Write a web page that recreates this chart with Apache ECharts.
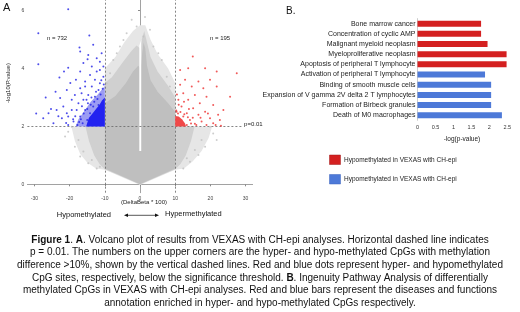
<!DOCTYPE html>
<html>
<head>
<meta charset="utf-8">
<script src="https://cdn.jsdelivr.net/npm/echarts@6/dist/echarts.min.js"></script>
<style>
html, body { margin: 0; padding: 0; background: #fff; }
#chart { width: 520px; height: 312px; }
</style>
</head>
<body>
<div id="chart"></div>
<script>
// ---- panel A : volcano plot (DeltaBeta*100 vs -log10 p) ----
const volcanoXTicks = [-30, -20, -10, 0, 10, 20, 30]
const volcanoYTicks = [0, 2, 4, 6]
const hypoCount = 'n = 732'
const hyperCount = 'n = 195'

// dense grey cloud, drawn as outlines
const greyHalo = [[-19.5,2.0],[-18.5,1.5],[-17,1.05],[-15,0.75],[-12.5,0.55],[-10,0.5],[0,-0.02],[10,0.5],[12.5,0.55],[15,0.8],[17.5,1.15],[19.5,1.6],[20.5,2.0],[10,2.0],[10,3.5],[8,4.0],[5,4.5],[3,5.0],[1.5,5.5],[0,5.5],[-2,5.3],[-4.5,4.9],[-7,4.4],[-10,4.0],[-10,2.0]]
const greyMid = [[-15.5,2.0],[-14.5,1.5],[-13,1.0],[-11.5,0.7],[-10,0.52],[0,0],[10,0.52],[11.5,0.7],[13,1.0],[14.5,1.5],[15.5,2.0],[10,2.0],[10,3.0],[8,3.4],[5,3.9],[3,4.4],[2,4.9],[1.2,5.3],[0.5,5.0],[0,4.7],[-1,4.8],[-2.5,4.6],[-5,4.2],[-8,3.7],[-10,3.5],[-10,2.0]]
const greyCore = [[-10,0.55],[0,0],[10,0.55],[10,2.5],[8,2.8],[5,3.2],[3,3.6],[2,4.1],[1.5,4.7],[1.0,4.9],[0.6,4.5],[0.2,4.0],[-0.5,4.1],[-2,3.9],[-4,3.5],[-7,3.05],[-10,2.8]]
const centreGap = [[-0.2,1.15],[0.35,1.15],[0.35,5.0],[-0.2,4.8]]
const blueHalo = [[-10,2.0],[-10,3.4],[-11,3.25],[-12,3.1],[-14,2.85],[-16,2.5],[-17.5,2.25],[-18.3,2.0]]
const blueCore = [[-10,2.0],[-10,3.0],[-10.8,2.9],[-11.5,2.75],[-12.5,2.6],[-13.5,2.45],[-14.5,2.3],[-15.0,2.12],[-15.3,2.0]]
const redCore = [[10,2.0],[10,2.36],[11,2.34],[12,2.24],[12.8,2.1],[13.1,2.0]]

const greyPts = [[1.42,5.78],[-2.37,5.69],[0.95,5.11],[-3.8,5.22],[-5.7,4.76],[3.8,4.76],[-7.6,4.3],[6.2,4.3],[-8.5,3.84],[7.6,3.72],[-0.95,5.45],[-4.7,4.99],[2.84,5.34],[-6.6,4.53],[5.2,4.53],[-9.5,3.49],[8.5,3.38],
  [-19.4,1.99],[-21.3,1.65],[-18.5,1.3],[-17.0,0.96],[-14.7,0.73],[-12.3,0.55],[-20.4,1.82],[-17.5,1.53],[-16.1,1.13],[-13.7,0.84],[-11.4,0.61],
  [19.9,1.99],[21.8,1.53],[18.5,1.3],[16.6,1.01],[14.2,0.78],[12.3,0.55],[20.8,1.76],[17.5,1.53],[15.6,1.19],[13.3,0.9]]

const bluePts = [[-20.4,6.05],[-28.9,5.22],[-14.4,5.14],[-17.2,4.73],[-17.0,4.59],[-28.9,4.15],[-13.3,4.82],[-14.7,4.47],[-20.4,4.03],[-22.9,3.69],[-16.1,4.19],[-14.9,4.32],[-12.3,4.36],[-11.4,3.95],[-10.4,4.07],[-18.2,3.61],[-15.6,3.55],[-20.8,3.26],[-23.7,2.57],[-27.5,2.28],[-24.6,2.11],[-21.8,2.69],[-19.4,2.92],[-18.0,2.57],[-16.6,3.15],[-15.2,2.92],[-13.7,3.38],[-12.8,3.61],[-11.4,3.49],[-10.4,3.72],[-14.2,3.78],[-11.8,3.26],[-20.4,2.34],[-18.9,2.17],[-26.0,2.46],[-17.0,2.34],[-15.6,2.57],[-22.7,2.98],[-14.7,3.09],[-12.8,3.03],[-15.6,3.38],[-17.0,3.32],[-18.5,3.09],[-12.3,3.9],[-17.0,3.9],[-13.7,4.07],[-11.4,4.24],[-10.9,4.53],[-16.1,2.92],[-17.5,2.8],[-19.4,2.57],[-20.8,2.46],[-22.2,2.28],[-17.8,2.05],[-16.3,2.11],[-15.0,2.22],[-20.4,2.05],[-13.3,2.69],[-11.8,2.74],[-14.2,2.46],
  [-10.6,3.3],[-11.2,3.1],[-12.1,2.95],[-13.0,2.85],[-14.0,2.75],[-15.0,2.6],[-16.0,2.45],[-16.8,2.25],[-17.3,2.15],[-10.3,3.45],[-11.0,3.6],[-12.5,3.2],[-13.8,3.0],[-14.8,2.8],[-16.5,2.7],[-18.4,2.35],[-19.0,2.25],[-21.0,2.12],[-23.2,2.35],[-25.3,2.6],[-24.0,3.2],[-26.8,3.0],[-29.5,2.45],[-19.8,3.5],[-21.6,3.9]]

const redPts = [[15.0,4.42],[27.5,3.84],[13.7,4.01],[18.5,4.01],[11.4,3.95],[21.8,3.9],[25.6,3.03],[12.8,3.61],[16.6,3.55],[19.9,3.61],[11.4,3.44],[14.7,3.38],[18.0,3.32],[21.8,3.38],[12.3,3.15],[15.6,3.09],[18.9,3.03],[10.9,2.92],[13.7,2.92],[17.0,2.8],[20.8,2.74],[23.7,2.57],[11.8,2.69],[15.1,2.63],[18.5,2.51],[22.2,2.4],[13.3,2.46],[16.6,2.4],[19.9,2.28],[22.7,2.22],[14.2,2.22],[17.5,2.17],[15.6,2.09],[18.9,2.05],[12.3,2.34],[10.4,2.51],[20.8,2.11],[13.3,2.05],
  [10.3,2.55],[10.8,2.45],[11.5,2.5],[12.6,2.42],[13.6,2.32],[14.5,2.1],[15.0,2.3],[11.0,2.75],[12.5,2.85],[10.5,3.1],[13.9,2.6],[16.0,2.05],[17.2,2.3],[19.3,2.45],[21.5,2.05],[23.0,2.02]]

// ---- panel B : IPA diseases & functions ----
const pathways = ['Bone marrow cancer', 'Concentration of cyclic AMP', 'Malignant myeloid neoplasm', 'Myeloproliferative neoplasm', 'Apoptosis of peripheral T lymphocyte', 'Activation of peripheral T lymphocyte', 'Binding of smooth muscle cells', 'Expansion of V gamma 2V delta 2 T lymphocytes', 'Formation of Birbeck granules', 'Death of M0 macrophages']
const pathwayScores = [1.77, 1.77, 1.95, 2.48, 2.48, 1.88, 2.05, 2.05, 2.05, 2.35]
const pathwayHyper = [true, true, true, true, true, false, false, false, false, false]
const legendLabels = ['Hypomethylated in VEXAS with CH-epi', 'Hypomethylated in VEXAS with CH-epi']

const captionLines = [
  '{b|Figure 1}. {b|A}. Volcano plot of results from VEXAS with CH-epi analyses. Horizontal dashed line indicates',
  'p = 0.01. The numbers on the upper corners are the hyper- and hypo-methylated CpGs with methylation',
  'difference >10%, shown by the vertical dashed lines. Red and blue dots represent hyper- and hypomethylated',
  'CpG sites, respectively, below the significance threshold. {b|B}. Ingenuity Pathway Analysis of differentially',
  'methylated CpGs in VEXAS with CH-epi analyses. Red and blue bars represent the diseases and functions',
  'annotation enriched in hyper- and hypo-methylated CpGs respectively.'
]

const RED = '#d42020'
const BLUE = '#4d79d8'
const FONT = 'Liberation Sans, Arial, sans-serif'

function polygon(pts, color, z) {
  return {
    type: 'custom', xAxisIndex: 0, yAxisIndex: 0, silent: true, z: z,
    data: [[0, 0]],
    renderItem: function (params, api) {
      return { type: 'polygon', shape: { points: pts.map(p => api.coord(p)) }, style: { fill: color } }
    }
  }
}

function dots(pts, color, z) {
  return {
    type: 'scatter', xAxisIndex: 0, yAxisIndex: 0, silent: true, z: z,
    symbolSize: 2, data: pts, itemStyle: { color: color }
  }
}

const chart = echarts.init(document.getElementById('chart'))

const graphic = [
  { type: 'text', left: 3, top: 2, style: { text: 'A', font: '11px ' + FONT, fill: '#111' } },
  { type: 'text', left: 286, top: 6, style: { text: 'B.', font: '10px ' + FONT, fill: '#111' } },
  { type: 'text', x: 47, y: 38, style: { text: hypoCount, font: '6px ' + FONT, fill: '#222', verticalAlign: 'middle' } },
  { type: 'text', x: 210, y: 38, style: { text: hyperCount, font: '6px ' + FONT, fill: '#222', verticalAlign: 'middle' } },
  { type: 'text', x: 8, y: 83, rotation: Math.PI / 2, style: { text: '-log10(P.value)', font: '6px ' + FONT, fill: '#222', align: 'center', verticalAlign: 'middle' } },
  { type: 'text', x: 144, y: 202, style: { text: '(DeltaBeta * 100)', font: '6px ' + FONT, fill: '#222', align: 'center', verticalAlign: 'middle' } },
  { type: 'text', x: 111, y: 215, style: { text: 'Hypomethylated', font: '7.5px ' + FONT, fill: '#111', align: 'right', verticalAlign: 'middle' } },
  { type: 'text', x: 165, y: 214, style: { text: 'Hypermethylated', font: '7.5px ' + FONT, fill: '#111', align: 'left', verticalAlign: 'middle' } },
  { type: 'line', shape: { x1: 127, y1: 215.3, x2: 156, y2: 215.3 }, style: { stroke: '#111', lineWidth: 0.7 } },
  { type: 'polygon', shape: { points: [[124, 215.3], [128, 213.6], [128, 217]] }, style: { fill: '#111' } },
  { type: 'polygon', shape: { points: [[159, 215.3], [155, 213.6], [155, 217]] }, style: { fill: '#111' } },
  { type: 'text', x: 462, y: 139, style: { text: '-log(p-value)', font: '6.5px ' + FONT, fill: '#222', align: 'center', verticalAlign: 'middle' } },
  { type: 'rect', shape: { x: 329.5, y: 155, width: 11, height: 9.5 }, style: { fill: RED, stroke: '#a01818', lineWidth: 0.5 } },
  { type: 'rect', shape: { x: 329.5, y: 174.5, width: 11, height: 9.5 }, style: { fill: BLUE, stroke: '#3a63bd', lineWidth: 0.5 } },
  { type: 'text', x: 344, y: 159.8, style: { text: legendLabels[0], font: '6.5px ' + FONT, fill: '#222', verticalAlign: 'middle' } },
  { type: 'text', x: 344, y: 179.5, style: { text: legendLabels[1], font: '6.5px ' + FONT, fill: '#222', verticalAlign: 'middle' } }
]
captionLines.forEach((line, i) => {
  graphic.push({
    type: 'text', x: 260, y: 240 + i * 12.6,
    style: {
      text: line, font: '10px ' + FONT, fill: '#111', align: 'center', verticalAlign: 'middle',
      rich: { b: { fontWeight: 'bold', fontSize: 10, fontFamily: FONT, fill: '#111' } }
    }
  })
})

const option = {
  backgroundColor: '#fff',
  animation: false,
  textStyle: { fontFamily: FONT },
  graphic: graphic,
  grid: [
    { left: 27.4, right: 267.4, top: 0, bottom: 119.3 },
    { left: 417.5, right: 12.7, top: 18.6, bottom: 191.7 }
  ],
  xAxis: [
    {
      gridIndex: 0, type: 'value', min: -32, max: 32,
      axisLine: { lineStyle: { color: '#8a8a8a', width: 0.8 } },
      axisTick: { length: 2, lineStyle: { color: '#8a8a8a' }, customValues: volcanoXTicks },
      axisLabel: { fontSize: 5, color: '#444', margin: 3, customValues: volcanoXTicks },
      splitLine: { show: false }
    },
    {
      gridIndex: 1, type: 'value', min: 0, max: 2.5, interval: 0.5,
      axisLine: { show: false }, axisTick: { show: false },
      axisLabel: { fontSize: 5.5, color: '#333', margin: 4 },
      splitLine: { show: false }
    }
  ],
  yAxis: [
    {
      gridIndex: 0, type: 'value', min: -0.29, max: 6.37,
      axisLine: { show: true, lineStyle: { color: '#8a8a8a', width: 0.8 } },
      axisTick: { show: true, length: 2, lineStyle: { color: '#8a8a8a' }, customValues: volcanoYTicks },
      axisLabel: { fontSize: 5, color: '#444', margin: 3, customValues: volcanoYTicks },
      splitLine: { show: false }
    },
    {
      gridIndex: 1, type: 'category', data: pathways, inverse: true,
      axisLine: { lineStyle: { color: '#aaa', width: 0.6 } },
      axisTick: { length: 2, lineStyle: { color: '#aaa' } },
      axisLabel: { fontSize: 7, color: '#222', margin: 2 }
    }
  ],
  series: [
    polygon(greyHalo, '#e6e6e6', 1),
    polygon(greyMid, '#d0d0d0', 2),
    polygon(greyCore, '#bfbfbf', 3),
    polygon(centreGap, '#ffffff', 4),
    dots(greyPts, '#c0c0c0', 5),
    polygon(blueHalo, '#9c9cf4', 6),
    polygon(blueCore, '#2222f0', 6),
    polygon(redCore, '#f04848', 6),
    dots(bluePts, '#2020e6', 7),
    dots(redPts, '#ee3030', 7),
    {
      type: 'scatter', xAxisIndex: 0, yAxisIndex: 0, data: [], z: 9, silent: true,
      markLine: {
        silent: true, symbol: 'none', animation: false,
        lineStyle: { color: '#666', type: [2, 2], width: 0.8 },
        label: { show: false },
        data: [
          { xAxis: -10 },
          { xAxis: 10 },
          [
            { coord: [-32, 2] },
            { coord: [29, 2], label: { show: true, position: 'end', formatter: 'p=0.01', fontSize: 6, color: '#222', distance: 2, offset: [0, -2] } }
          ]
        ]
      }
    },
    {
      type: 'bar', xAxisIndex: 1, yAxisIndex: 1, barWidth: 6,
      data: pathwayScores.map((v, i) => ({ value: v, itemStyle: { color: pathwayHyper[i] ? RED : BLUE } }))
    }
  ]
}
chart.setOption(option)
</script>
</body>
</html>
